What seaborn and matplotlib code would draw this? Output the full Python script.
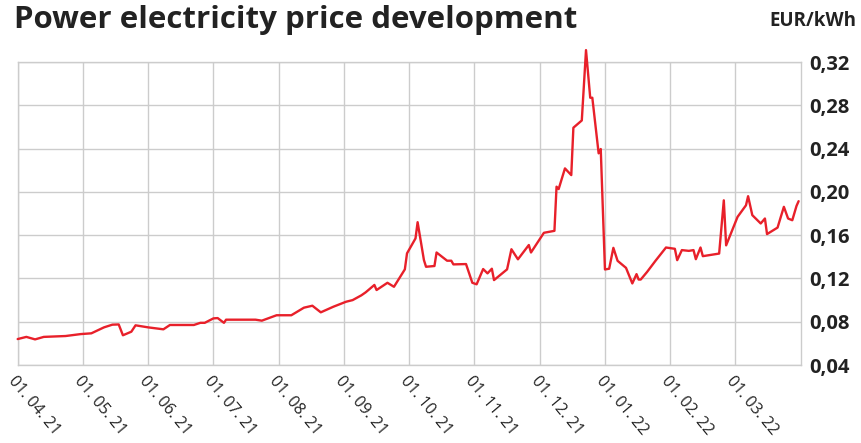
import calendar
import datetime as dt
import numpy as np
import pandas as pd
import seaborn as sns
import matplotlib.pyplot as plt

sns.set_style("white")
plt.rcParams["font.family"] = ["Open Sans", "DejaVu Sans"]

# price readings (date, EUR/kWh)
dates = ["2021-04-01", "2021-04-05", "2021-04-09", "2021-04-13", "2021-04-23", "2021-04-30",
         "2021-05-05", "2021-05-11", "2021-05-15", "2021-05-18", "2021-05-19", "2021-05-20",
         "2021-05-24", "2021-05-26", "2021-06-01", "2021-06-08", "2021-06-11", "2021-06-22",
         "2021-06-25", "2021-06-27", "2021-07-01", "2021-07-03", "2021-07-06", "2021-07-07",
         "2021-07-21", "2021-07-24", "2021-07-31", "2021-08-07", "2021-08-13", "2021-08-17",
         "2021-08-21", "2021-08-27", "2021-09-02", "2021-09-05", "2021-09-09", "2021-09-11",
         "2021-09-15", "2021-09-16", "2021-09-21", "2021-09-24", "2021-09-29", "2021-09-30",
         "2021-10-04", "2021-10-05", "2021-10-08", "2021-10-09", "2021-10-13", "2021-10-14",
         "2021-10-19", "2021-10-21", "2021-10-22", "2021-10-28", "2021-10-31", "2021-11-02",
         "2021-11-05", "2021-11-07", "2021-11-09", "2021-11-10", "2021-11-16", "2021-11-18",
         "2021-11-21", "2021-11-26", "2021-11-27", "2021-12-03", "2021-12-08", "2021-12-09",
         "2021-12-10", "2021-12-13", "2021-12-16", "2021-12-17", "2021-12-21", "2021-12-23",
         "2021-12-25", "2021-12-26", "2021-12-29", "2021-12-30", "2022-01-01", "2022-01-03",
         "2022-01-05", "2022-01-07", "2022-01-11", "2022-01-14", "2022-01-16", "2022-01-17",
         "2022-01-18", "2022-01-21", "2022-01-25", "2022-01-30", "2022-02-03", "2022-02-04",
         "2022-02-06", "2022-02-09", "2022-02-11", "2022-02-12", "2022-02-14", "2022-02-15",
         "2022-02-22", "2022-02-24", "2022-02-25", "2022-03-02", "2022-03-06", "2022-03-07",
         "2022-03-09", "2022-03-13", "2022-03-15", "2022-03-16", "2022-03-21", "2022-03-24",
         "2022-03-26", "2022-03-28", "2022-03-30", "2022-03-31"]
prices = [0.064, 0.066, 0.0637, 0.066, 0.0668, 0.0686,
          0.0693, 0.0748, 0.0773, 0.0775, 0.0725, 0.0675,
          0.0708, 0.0767, 0.0748, 0.073, 0.077, 0.077,
          0.079, 0.079, 0.0831, 0.0834, 0.079, 0.0819,
          0.0819, 0.081, 0.086, 0.086, 0.093, 0.0948,
          0.0887, 0.0939, 0.0985, 0.100, 0.1044, 0.1072,
          0.114, 0.1093, 0.116, 0.1123, 0.1284, 0.1432,
          0.157, 0.172, 0.137, 0.1308, 0.1315, 0.144,
          0.1364, 0.1364, 0.133, 0.1333, 0.116, 0.1146,
          0.1287, 0.1247, 0.129, 0.1185, 0.1284, 0.147,
          0.1377, 0.1509, 0.144, 0.1622, 0.164, 0.2048,
          0.2026, 0.2217, 0.2155, 0.2593, 0.266, 0.331,
          0.287, 0.287, 0.2356, 0.2396, 0.1283, 0.129,
          0.1483, 0.1363, 0.1298, 0.1154, 0.124, 0.119,
          0.119, 0.126, 0.1363, 0.1486, 0.1474, 0.1369,
          0.1462, 0.1455, 0.1462, 0.1378, 0.1486, 0.1406,
          0.143, 0.1922, 0.1506, 0.1769, 0.1876, 0.196,
          0.1785, 0.1708, 0.1754, 0.161, 0.167, 0.1862,
          0.1754, 0.1738, 0.187, 0.1914]

month_labels = ["01. 04. 21", "01. 05. 21", "01. 06. 21", "01. 07. 21", "01. 08. 21",
                "01. 09. 21", "01. 10. 21", "01. 11. 21", "01. 12. 21", "01. 01. 22",
                "01. 02. 22", "01. 03. 22"]
y_ticks = [0.04, 0.08, 0.12, 0.16, 0.20, 0.24, 0.28, 0.32]


def month_pos(s, start=dt.date(2021, 4, 1)):
    # every month gets the same width on the axis
    d = dt.date.fromisoformat(s)
    k = (d.year - start.year) * 12 + d.month - start.month
    return k + (d.day - 1) / calendar.monthrange(d.year, d.month)[1]


df = pd.DataFrame({"pos": [month_pos(s) for s in dates], "price": prices})

fig = plt.figure(figsize=(8.62, 4.43), dpi=100)
ax = fig.add_axes([0.0205, 0.176, 0.9084, 0.684])

sns.lineplot(data=df, x="pos", y="price", ax=ax, color="#e8202a", linewidth=1.7,
             clip_on=False, zorder=5)

ax.set_xlim(0, 12)
ax.set_ylim(0.04, 0.32)
ax.set_xticks(range(12))
ax.set_xticklabels(month_labels, rotation=-50, ha="left", va="top",
                   rotation_mode="anchor", fontsize=11.5, color="#222222")
ax.set_yticks(y_ticks)
ax.set_yticklabels(["{:.2f}".format(v).replace(".", ",") for v in y_ticks],
                   fontsize=14.5, fontweight="bold", color="#222222")
ax.yaxis.tick_right()
ax.tick_params(axis="both", length=0)
ax.tick_params(axis="y", pad=6)
ax.tick_params(axis="x", pad=6)
ax.grid(True, color="#cccccc", linewidth=1)
for sp in ax.spines.values():
    sp.set_color("#cccccc")
    sp.set_linewidth(1)
ax.set_xlabel("")
ax.set_ylabel("")

fig.text(0.016, 0.988, "Power electricity price development", fontsize=22.5,
         fontweight="bold", color="#222222", va="top", ha="left")
fig.text(0.993, 0.975, "EUR/kWh", fontsize=13.5, fontweight="bold",
         color="#222222", va="top", ha="right")

plt.savefig("out.png", dpi=100)
